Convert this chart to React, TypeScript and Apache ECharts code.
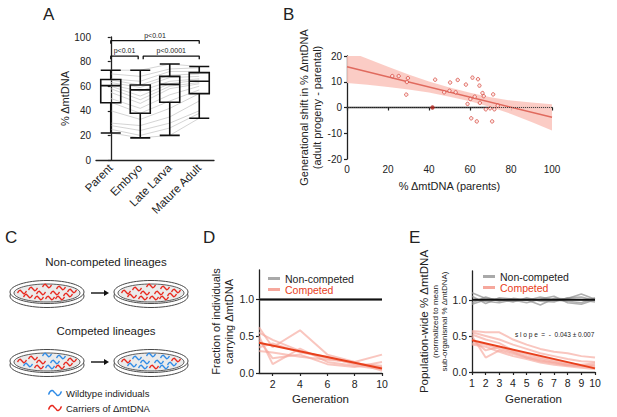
import React, { useEffect, useRef } from "react";
import * as echarts from "echarts";

const FONT = "Liberation Sans, Arial, Helvetica, sans-serif";
const INK = "#222";

// ---------- Panel A ----------
const stages = ["Parent", "Embryo", "Late Larva", "Mature Adult"];
// [min, Q1, median, Q3, max]
const boxStats = [
  [22, 46.5, 60.5, 65.5, 73],
  [18, 38, 57, 61, 73],
  [20, 47, 61.5, 68, 78],
  [34, 54, 64, 71, 76],
];
// paired individuals (Parent, Embryo, Late Larva, Mature Adult)
const individuals = [
  [73, 73, 78, 76],
  [70, 68, 74, 75],
  [66, 64, 72, 72],
  [65, 61, 69, 70],
  [63, 59, 67, 68],
  [61, 56, 64, 66],
  [60, 52, 62, 65],
  [58, 49, 60, 63],
  [55, 46, 58, 62],
  [50, 42, 53, 60],
  [47, 38, 48, 57],
  [40, 33, 42, 54],
  [30, 28, 35, 48],
  [28, 24, 30, 40],
  [25, 20, 26, 38],
  [22, 18, 20, 34],
];
const bracketFrom = [0, 0, 1.1];
const bracketTo = [3, 0.93, 3];
const bracketLevel = [97, 84.5, 84.5];
const bracketLabel = ["p<0.01", "p<0.01", "p<0.0001"];

// ---------- Panel B ----------
const parentPct = [22.1, 25.2, 29.7, 29.2, 28.9, 43, 50.3, 54, 50, 47.4, 53, 58, 58.8, 60.2, 61.2, 63.9, 64.6, 62.3, 60.6, 63.3, 64.8, 66.1, 66.7, 67.7, 69.8, 71.3, 71.9, 70.8, 73.5];
const shiftPct = [12.2, 12.2, 11.4, 9.9, 5.0, 10.8, 9.7, 10.7, 6.5, 5.9, 5.9, 8.9, 1.4, 3.3, 11.6, 11, 8.5, 4.2, -4.2, -5.4, 1.8, 5.6, 4.4, -0.7, -0.3, 5.1, -0.7, -5.4, 0.7];
const highlightedPoint = [41.7, 0];
const bandX = [0, 10, 20, 30, 40, 50, 60, 70, 80, 90, 100];
const bandLower = [9.5, 8.8, 8.0, 7.0, 5.8, 4.2, 2.4, 0.2, -2.5, -5.6, -8.9];
const bandUpper = [22.1, 18.9, 15.8, 12.8, 10.1, 7.8, 5.7, 4.0, 2.7, 1.9, 1.3];
const fitX = [0, 100];
const fitY = [15.8, -3.8];

// ---------- Panel D ----------
const dGenerations = [1, 2, 4, 6, 8, 10];
const dCompeted = [
  [0.62, 0.35, 0.58, 0.25, 0.15, 0.25],
  [0.55, 0.45, 0.3, 0.2, 0.13, 0.1],
  [0.5, 0.12, 0.33, 0.15, 0.1, 0.05],
  [0.45, 0.2, 0.25, 0.12, 0.08, 0.15],
  [0.35, 0.4, 0.28, 0.22, 0.12, 0.08],
  [0.3, 0.28, 0.22, 0.18, 0.15, 0.03],
];
const dNonCompeted = [1, 1, 1, 1, 1, 1];
const dFitX = [1, 10];
const dFitY = [0.41, 0.06];

// ---------- Panel E ----------
const eGenerations = [1, 2, 3, 4, 5, 6, 7, 8, 9, 10];
const eNonCompeted = [
  [1.1, 1.02, 1.0, 0.98, 1.01, 1.0, 0.99, 1.02, 1.08, 1.01],
  [1.05, 0.95, 1.03, 1.01, 0.99, 1.04, 1.0, 0.98, 0.96, 1.03],
  [0.96, 1.04, 0.98, 1.02, 1.0, 0.93, 1.02, 1.01, 1.0, 0.97],
  [0.94, 1.0, 1.01, 0.97, 1.03, 0.98, 0.97, 1.03, 1.04, 0.99],
  [1.0, 0.98, 0.96, 1.0, 0.96, 1.01, 1.05, 0.96, 0.94, 1.0],
];
const eCompeted = [
  [0.57, 0.55, 0.55, 0.45, 0.38, 0.32, 0.28, 0.26, 0.22, 0.2],
  [0.55, 0.5, 0.45, 0.38, 0.32, 0.26, 0.22, 0.18, 0.15, 0.14],
  [0.5, 0.2, 0.3, 0.25, 0.2, 0.16, 0.13, 0.1, 0.09, 0.08],
  [0.45, 0.3, 0.35, 0.28, 0.22, 0.18, 0.14, 0.1, 0.08, 0.06],
  [0.4, 0.38, 0.32, 0.27, 0.2, 0.15, 0.12, 0.09, 0.08, 0.1],
  [0.38, 0.35, 0.28, 0.22, 0.18, 0.13, 0.1, 0.08, 0.06, 0.04],
  [0.52, 0.45, 0.4, 0.3, 0.25, 0.2, 0.16, 0.12, 0.1, 0.12],
];
const eMean = 1;
const eFitX = [1, 10];
const eFitY = [0.44, 0.05];
const slopeText = "s l o p e  =  -  0.043 ± 0.007";

// ---------- Panel C (illustration) ----------
const RED = "#e8281e";
const BLUE = "#2f8be6";
const squiggleSpots = [
  [-25, 0], [-14, -3], [0, -6], [14, -4], [25, -1],
  [-19, 4], [-6, 1], [8, 1], [21, 3],
  [-8, 6], [3, 6], [13, 6],
];
const nonCompetedStart = "RRRRRRRRRRRR";
const nonCompetedEnd = "RRRRRRRRRRRR";
const competedStart = "RRBBRBRBRRBR";
const competedEnd = "RBBBRBBBBBRB";

const COMP_LIGHT = "#f6a89d";
const FIT_RED = "#e8401c";

function squiggle(x: number, y: number, color: string, s = 1.1, w = 1.4) {
  return {
    type: "polyline",
    silent: true,
    shape: {
      points: [
        [x - 4 * s, y + 1 * s],
        [x - 2 * s, y - 1.5 * s],
        [x, y],
        [x + 2 * s, y + 1.5 * s],
        [x + 4 * s, y - 1 * s],
      ],
      smooth: 0.6,
    },
    style: { stroke: color, lineWidth: w, fill: null },
  };
}

function dish(cx: number, cy: number, colors: string) {
  const els: any[] = [
    { type: "ellipse", silent: true, shape: { cx, cy: cy + 4, rx: 37, ry: 11.5 }, style: { fill: "#fff", stroke: "#333", lineWidth: 0.9 } },
    { type: "ellipse", silent: true, shape: { cx, cy, rx: 37, ry: 11.5 }, style: { fill: "#fff", stroke: "#333", lineWidth: 0.9 } },
    { type: "ellipse", silent: true, shape: { cx, cy: cy + 1, rx: 33, ry: 9 }, style: { fill: "#ebebeb", stroke: "#333", lineWidth: 0.8 } },
  ];
  squiggleSpots.forEach(([dx, dy], i) => {
    els.push(squiggle(cx + dx, cy + dy, colors[i] === "B" ? BLUE : RED));
  });
  return els;
}

function arrow(x1: number, x2: number, y: number) {
  return [
    { type: "line", silent: true, shape: { x1, y1: y, x2: x2 - 4, y2: y }, style: { stroke: "#111", lineWidth: 1.4 } },
    { type: "polygon", silent: true, shape: { points: [[x2 - 5, y - 3], [x2, y], [x2 - 5, y + 3]] }, style: { fill: "#111" } },
  ];
}

function label(x: number, y: number, text: string, size: number, extra: any = {}) {
  return {
    type: "text",
    silent: true,
    x,
    y,
    style: { text, fontSize: size, fontFamily: FONT, fill: INK, ...extra },
  };
}

const axisCommon = {
  axisLine: { lineStyle: { color: INK, width: 1.3 } },
  axisTick: { length: 3, lineStyle: { color: INK, width: 1.2 } },
  axisLabel: { color: INK, fontSize: 10, fontFamily: FONT, margin: 5 },
  splitLine: { show: false },
  nameTextStyle: { color: INK, fontSize: 11, fontFamily: FONT },
};

export default function App() {
  const ref = useRef<HTMLDivElement>(null);

  useEffect(() => {
    if (!ref.current) return;
    const chart = echarts.init(ref.current, undefined, { renderer: "svg" });

    const series: any[] = [];

    // Panel A: paired individual lines
    individuals.forEach((row) => {
      series.push({
        type: "line",
        xAxisIndex: 0,
        yAxisIndex: 0,
        data: row,
        symbol: "none",
        lineStyle: { color: "#c9c9c9", width: 0.8 },
        z: 1,
        silent: true,
      });
    });
    series.push({
      type: "boxplot",
      xAxisIndex: 0,
      yAxisIndex: 0,
      data: boxStats,
      boxWidth: [20, 20],
      itemStyle: { color: "rgba(0,0,0,0)", borderColor: "#111", borderWidth: 1.6 },
      z: 3,
    });
    bracketFrom.forEach((f, i) => {
      const t = bracketTo[i];
      const lv = bracketLevel[i];
      series.push({
        type: "line",
        xAxisIndex: 1,
        yAxisIndex: 0,
        data: [[f, lv - 2.5], [f, lv], [t, lv], [t, lv - 2.5]],
        symbol: "none",
        clip: false,
        lineStyle: { color: "#111", width: 1.3 },
        z: 4,
      });
    });

    // Panel B: confidence band as a polygon built from the band arrays
    series.push({
      type: "custom",
      xAxisIndex: 2,
      yAxisIndex: 1,
      data: bandX.map((x, i) => [x, bandLower[i], bandUpper[i]]),
      encode: { x: 0, y: [1, 2] },
      silent: true,
      z: 1,
      renderItem: (params: any, api: any) => {
        if (params.dataIndex !== 0) return null;
        const upper = bandX.map((x, i) => api.coord([x, bandUpper[i]]));
        const lower = bandX.map((x, i) => api.coord([x, bandLower[i]])).reverse();
        const cs = params.coordSys;
        return {
          type: "polygon",
          shape: { points: upper.concat(lower) },
          style: { fill: "#fbc6bf", opacity: 0.9 },
          clipPath: { type: "rect", shape: { x: cs.x, y: cs.y, width: cs.width, height: cs.height } },
        };
      },
    });
    series.push({
      type: "line",
      xAxisIndex: 2,
      yAxisIndex: 1,
      data: fitX.map((x, i) => [x, fitY[i]]),
      symbol: "none",
      lineStyle: { color: "#e06a5e", width: 1.5 },
      z: 3,
    });
    series.push({
      type: "scatter",
      xAxisIndex: 2,
      yAxisIndex: 1,
      data: parentPct.map((x, i) => [x, shiftPct[i]]),
      symbol: "circle",
      symbolSize: 3.4,
      itemStyle: { color: "#fde6e3", borderColor: "#d2392e", borderWidth: 0.9 },
      z: 4,
      markLine: {
        silent: true,
        symbol: "none",
        label: { show: false },
        lineStyle: { type: "dotted", color: "#444", width: 1 },
        data: [{ yAxis: 0 }],
      },
    });
    series.push({
      type: "scatter",
      xAxisIndex: 2,
      yAxisIndex: 1,
      data: [highlightedPoint],
      symbolSize: 3.6,
      itemStyle: { color: "#b3261e", borderColor: "#b3261e", borderWidth: 0.9 },
      z: 5,
    });

    // Panel D
    series.push({
      type: "line",
      name: "Non-competed",
      color: "#a9a9a9",
      xAxisIndex: 3,
      yAxisIndex: 2,
      data: dGenerations.map((g, i) => [g, dNonCompeted[i]]),
      symbol: "none",
      lineStyle: { color: "#a9a9a9", width: 2 },
      z: 2,
    });
    dCompeted.forEach((row) => {
      series.push({
        type: "line",
        name: "Competed",
        color: COMP_LIGHT,
        xAxisIndex: 3,
        yAxisIndex: 2,
        data: dGenerations.map((g, i) => [g, row[i]]),
        symbol: "none",
        lineStyle: { color: COMP_LIGHT, width: 2, opacity: 0.65 },
        z: 2,
      });
    });
    series.push({
      type: "line",
      xAxisIndex: 3,
      yAxisIndex: 2,
      data: [[dGenerations[0], 1], [dGenerations[dGenerations.length - 1], 1]],
      symbol: "none",
      lineStyle: { color: "#111", width: 2 },
      z: 4,
    });
    series.push({
      type: "line",
      xAxisIndex: 3,
      yAxisIndex: 2,
      data: dFitX.map((x, i) => [x, dFitY[i]]),
      symbol: "none",
      lineStyle: { color: FIT_RED, width: 2 },
      z: 4,
    });

    // Panel E
    eNonCompeted.forEach((row) => {
      series.push({
        type: "line",
        name: "Non-competed",
        color: "#a9a9a9",
        xAxisIndex: 4,
        yAxisIndex: 3,
        data: eGenerations.map((g, i) => [g, row[i]]),
        symbol: "none",
        lineStyle: { color: "#8f8f8f", width: 1.6, opacity: 0.7 },
        z: 2,
      });
    });
    eCompeted.forEach((row) => {
      series.push({
        type: "line",
        name: "Competed",
        color: COMP_LIGHT,
        xAxisIndex: 4,
        yAxisIndex: 3,
        data: eGenerations.map((g, i) => [g, row[i]]),
        symbol: "none",
        lineStyle: { color: COMP_LIGHT, width: 2, opacity: 0.65 },
        z: 2,
      });
    });
    series.push({
      type: "line",
      xAxisIndex: 4,
      yAxisIndex: 3,
      data: [[eGenerations[0], eMean], [eGenerations[eGenerations.length - 1], eMean]],
      symbol: "none",
      lineStyle: { color: "#111", width: 2 },
      z: 4,
    });
    series.push({
      type: "line",
      xAxisIndex: 4,
      yAxisIndex: 3,
      data: eFitX.map((x, i) => [x, eFitY[i]]),
      symbol: "none",
      lineStyle: { color: FIT_RED, width: 2 },
      z: 4,
    });

    const legendBase = {
      orient: "vertical",
      icon: "rect",
      itemWidth: 12,
      itemHeight: 3,
      itemGap: 0,
      selectedMode: false,
      textStyle: { fontSize: 10.5, fontFamily: FONT, color: INK },
      data: [
        { name: "Non-competed" },
        { name: "Competed", textStyle: { color: FIT_RED } },
      ],
    };

    const graphics: any[] = [
      label(43, 6, "A", 17),
      label(283, 6, "B", 17),
      label(5, 229, "C", 17),
      label(203, 229, "D", 17),
      label(409, 229, "E", 17),
      label(106, 262, "Non-competed lineages", 11.5, { align: "center", verticalAlign: "middle" }),
      label(106, 331, "Competed lineages", 11.5, { align: "center", verticalAlign: "middle" }),
      ...dish(47, 292, nonCompetedStart),
      ...dish(151, 292, nonCompetedEnd),
      ...arrow(91, 109, 293),
      ...dish(47, 361, competedStart),
      ...dish(151, 361, competedEnd),
      ...arrow(91, 109, 362),
      squiggle(55, 393, BLUE, 1.6, 1.5),
      squiggle(55, 408, RED, 1.6, 1.5),
      label(66, 393, "Wildtype individuals", 9.5, { verticalAlign: "middle" }),
      label(66, 408, "Carriers of ΔmtDNA", 9.5, { verticalAlign: "middle" }),
      label(515, 334, slopeText, 6.5, { verticalAlign: "middle" }),
    ];

    const option: any = {
      animation: false,
      backgroundColor: "#fff",
      textStyle: { fontFamily: FONT },
      grid: [
        { left: 96, top: 37, width: 118, height: 123 },
        { left: 347, top: 56, width: 205, height: 103 },
        { left: 259, top: 270, width: 123, height: 103 },
        { left: 472, top: 271, width: 123, height: 101 },
      ],
      xAxis: [
        {
          ...axisCommon,
          type: "category",
          gridIndex: 0,
          data: stages,
          axisTick: { ...axisCommon.axisTick, alignWithLabel: true },
          axisLabel: { ...axisCommon.axisLabel, rotate: 45, fontSize: 11.5, margin: 6 },
        },
        { type: "value", gridIndex: 0, min: -0.5, max: 3.5, show: false },
        {
          ...axisCommon,
          type: "value",
          gridIndex: 1,
          min: 0,
          max: 100,
          interval: 20,
          name: "% ΔmtDNA (parents)",
          nameLocation: "middle",
          nameGap: 21,
        },
        {
          ...axisCommon,
          type: "value",
          gridIndex: 2,
          min: 1,
          max: 10,
          axisTick: { ...axisCommon.axisTick, customValues: [2, 4, 6, 8, 10] },
          axisLabel: { ...axisCommon.axisLabel, fontSize: 10.5, customValues: [2, 4, 6, 8, 10] },
          name: "Generation",
          nameLocation: "middle",
          nameGap: 20,
          nameTextStyle: { ...axisCommon.nameTextStyle, fontSize: 11.5 },
        },
        {
          ...axisCommon,
          type: "value",
          gridIndex: 3,
          min: 1,
          max: 10,
          interval: 1,
          axisLabel: { ...axisCommon.axisLabel, fontSize: 10.5 },
          name: "Generation",
          nameLocation: "middle",
          nameGap: 21,
          nameTextStyle: { ...axisCommon.nameTextStyle, fontSize: 11.5 },
        },
      ],
      yAxis: [
        {
          ...axisCommon,
          type: "value",
          gridIndex: 0,
          min: 0,
          max: 100,
          interval: 20,
          name: "% ΔmtDNA",
          nameLocation: "middle",
          nameGap: 23,
          nameTextStyle: { ...axisCommon.nameTextStyle, fontSize: 11 },
        },
        {
          ...axisCommon,
          type: "value",
          gridIndex: 1,
          min: -20,
          max: 20,
          interval: 10,
          name: "Generational shift in % ΔmtDNA\n(adult progeny - parental)",
          nameLocation: "middle",
          nameGap: 21,
          nameTextStyle: { ...axisCommon.nameTextStyle, fontSize: 11, lineHeight: 13 },
        },
        {
          ...axisCommon,
          type: "value",
          gridIndex: 2,
          min: 0,
          max: 1.4,
          axisTick: { ...axisCommon.axisTick, customValues: [0, 0.5, 1] },
          axisLabel: {
            ...axisCommon.axisLabel,
            fontSize: 10.5,
            customValues: [0, 0.5, 1],
            formatter: (v: number) => v.toFixed(1),
          },
          name: "Fraction of individuals\ncarrying ΔmtDNA",
          nameLocation: "middle",
          nameGap: 22,
          nameTextStyle: { ...axisCommon.nameTextStyle, fontSize: 11, lineHeight: 13 },
        },
        {
          ...axisCommon,
          type: "value",
          gridIndex: 3,
          min: 0,
          max: 1.4,
          axisTick: { ...axisCommon.axisTick, customValues: [0, 0.5, 1] },
          axisLabel: {
            ...axisCommon.axisLabel,
            fontSize: 10.5,
            customValues: [0, 0.5, 1],
            formatter: (v: number) => v.toFixed(1),
          },
          name: "{a|Population-wide % ΔmtDNA}\n{b|(normalized to mean}\n{b|sub-organismal % ΔmtDNA)}",
          nameLocation: "middle",
          nameGap: 22,
          nameTextStyle: {
            ...axisCommon.nameTextStyle,
            rich: {
              a: { fontSize: 11.5, fontFamily: FONT, color: INK, lineHeight: 13 },
              b: { fontSize: 8, fontFamily: FONT, color: INK, lineHeight: 9.5 },
            },
          },
        },
      ],
      legend: [
        { ...legendBase, left: 263, top: 268 },
        { ...legendBase, left: 478, top: 266 },
      ],
      series,
      graphic: graphics,
    };

    chart.setOption(option);

    // significance labels placed through the panel A scales
    const pLabels = bracketFrom.map((f, i) => {
      const p = chart.convertToPixel({ xAxisIndex: 1, yAxisIndex: 0 } as any, [
        (f + bracketTo[i]) / 2,
        bracketLevel[i],
      ]) as number[];
      return label(p[0], p[1] - 2, bracketLabel[i], 7, { align: "center", verticalAlign: "bottom" });
    });
    chart.setOption({ graphic: [...graphics, ...pLabels] });

    return () => chart.dispose();
  }, []);

  return (
    <div
      ref={ref}
      style={{ position: "fixed", left: 0, top: 0, width: 617, height: 417, background: "#fff" }}
    />
  );
}
